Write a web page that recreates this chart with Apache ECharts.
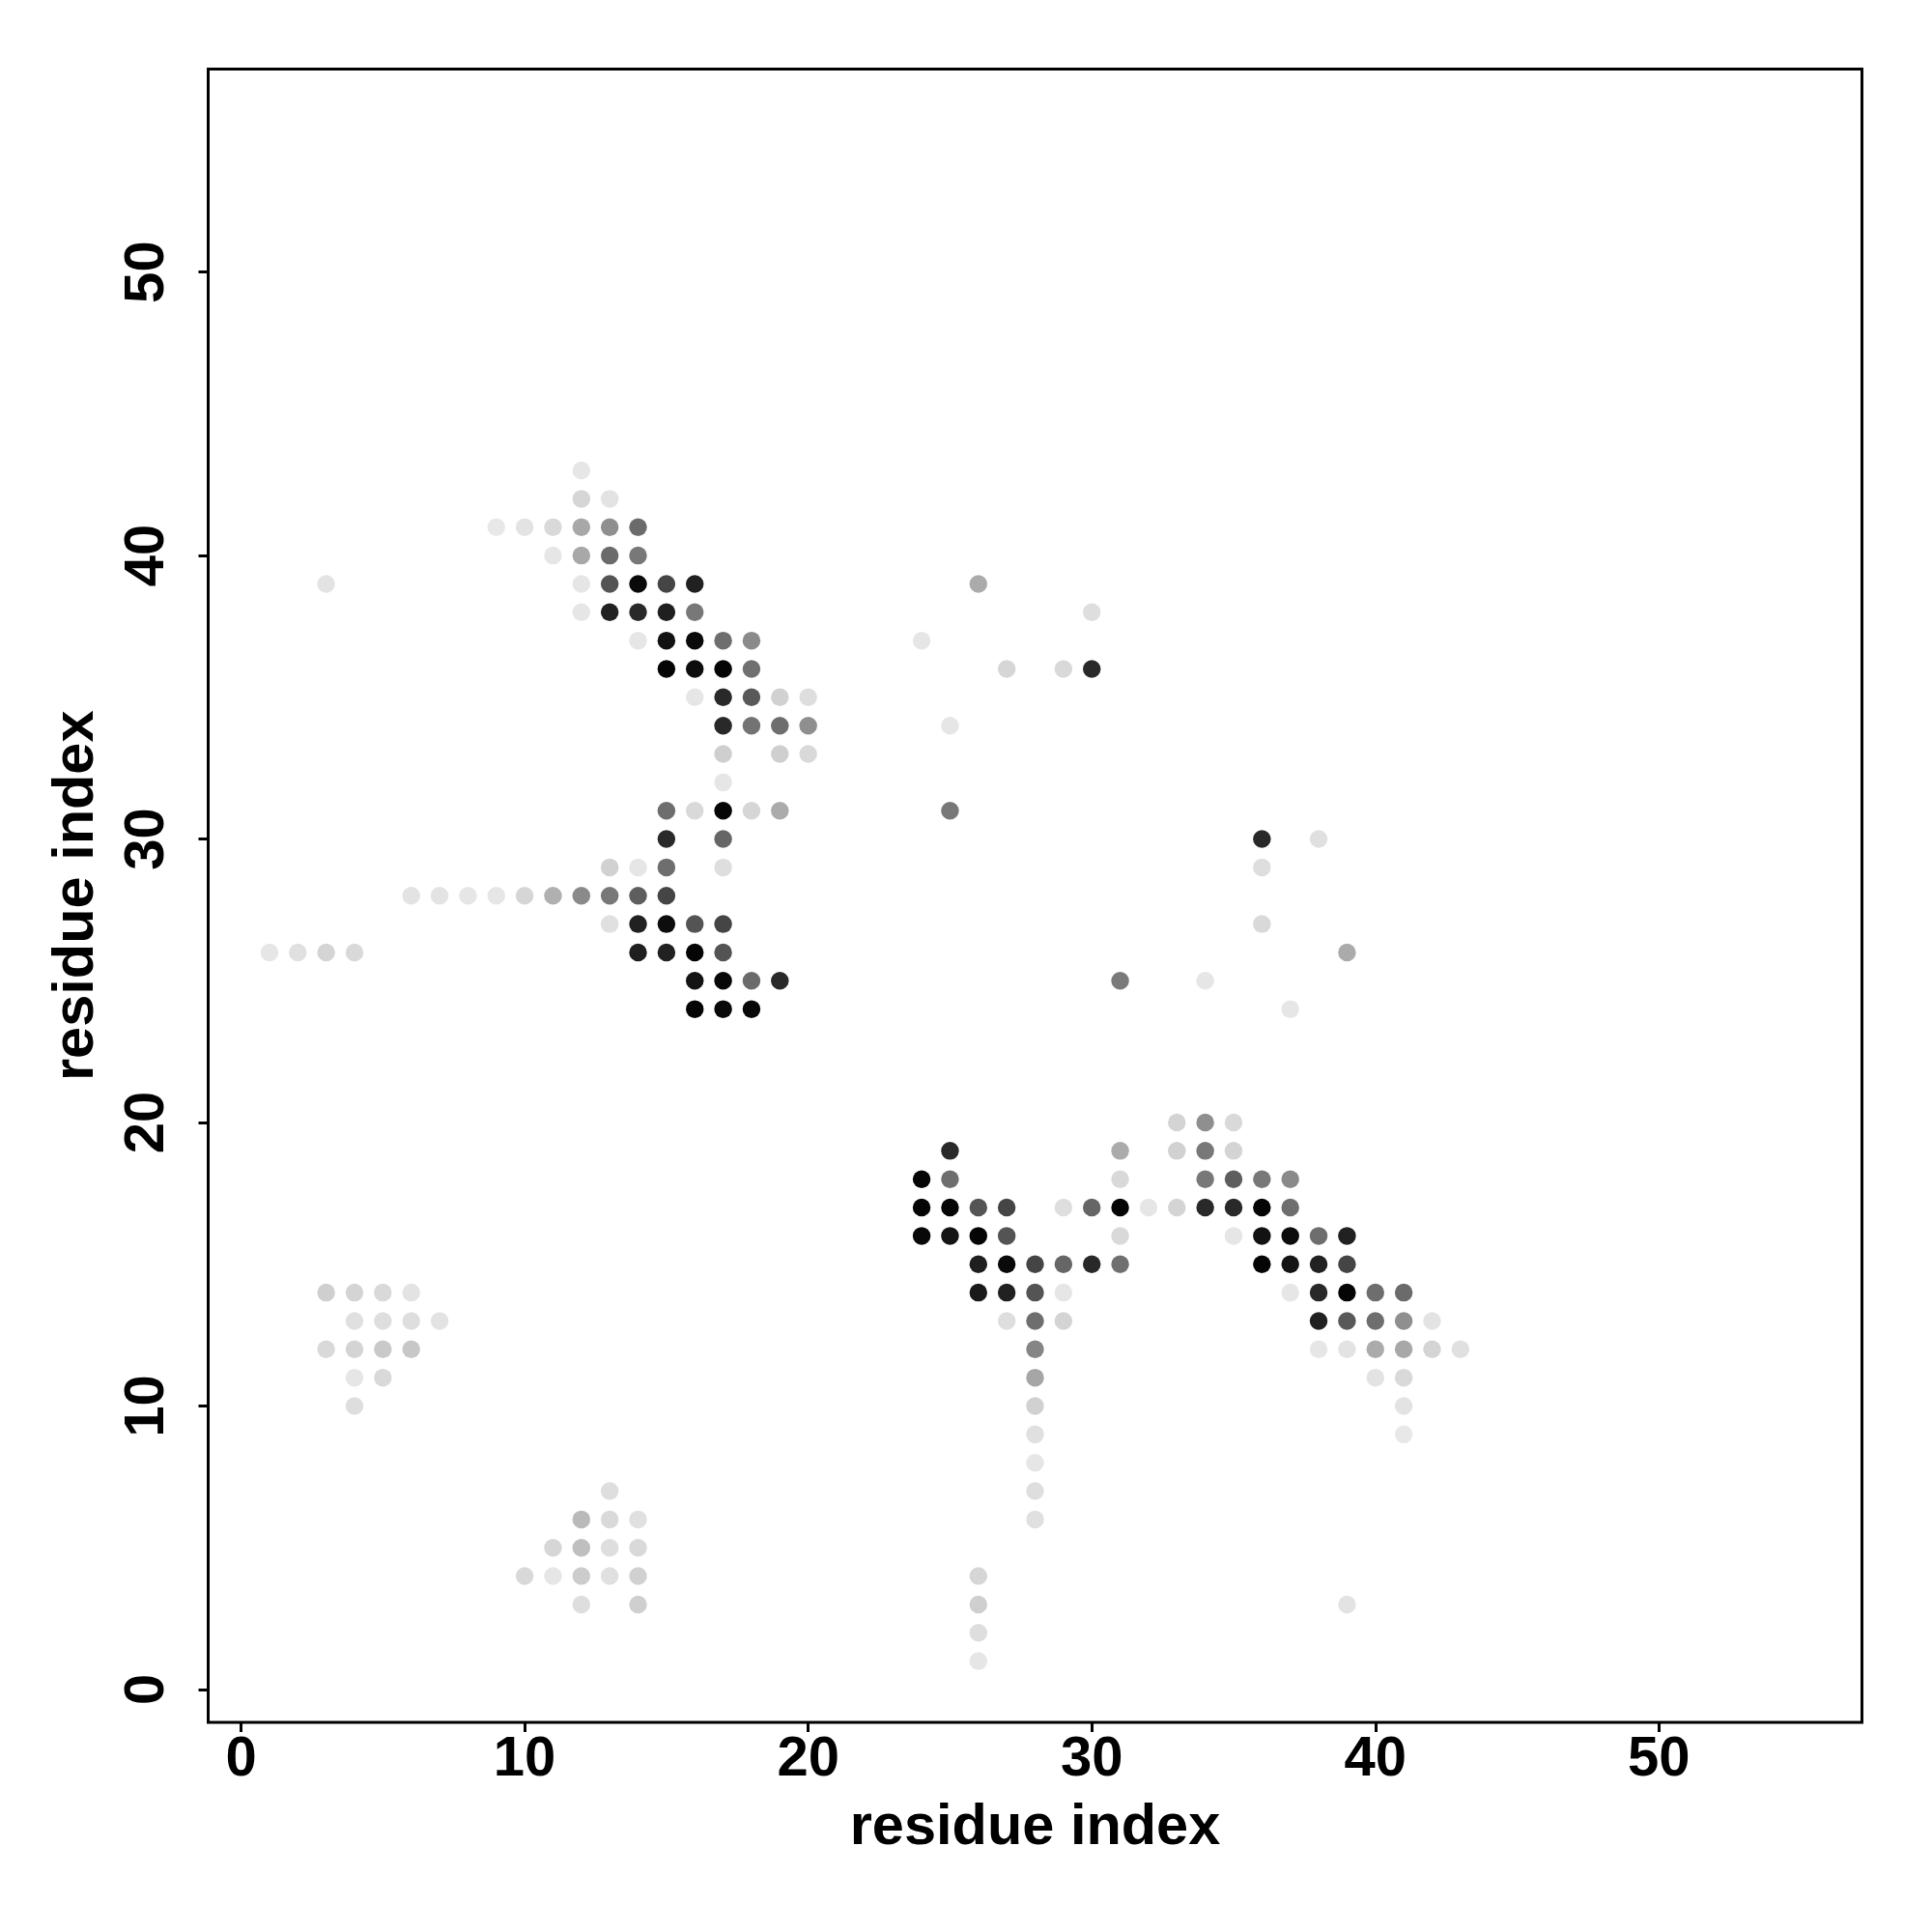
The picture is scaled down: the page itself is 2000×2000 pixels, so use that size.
<!DOCTYPE html>
<html>
<head>
<meta charset="utf-8">
<script src="https://cdn.jsdelivr.net/npm/echarts@6/dist/echarts.min.js"></script>
<style>html,body{margin:0;padding:0;background:#fff}#c{width:2000px;height:2000px}</style>
</head>
<body>
<div id="c"></div>
<script>
// [residue i, residue j, contact probability]
const helixPairTop = [
  [12,43,0.10],
  [12,42,0.16],[13,42,0.11],
  [9,41,0.09],[10,41,0.11],[11,41,0.15],[12,41,0.34],[13,41,0.44],[14,41,0.58],
  [11,40,0.10],[12,40,0.34],[13,40,0.58],[14,40,0.53],
  [12,39,0.10],[13,39,0.67],[14,39,0.96],[15,39,0.73],[16,39,0.87],
  [12,38,0.10],[13,38,0.87],[14,38,0.84],[15,38,0.88],[16,38,0.53],
  [14,37,0.10],[15,37,0.93],[16,37,0.96],[17,37,0.57],[18,37,0.46],
  [15,36,0.98],[16,36,0.95],[17,36,0.98],[18,36,0.56],
  [16,35,0.10],[17,35,0.84],[18,35,0.65],[19,35,0.18],[20,35,0.13],
  [17,34,0.84],[18,34,0.55],[19,34,0.57],[20,34,0.44],
  [17,33,0.19],[19,33,0.19],[20,33,0.15],
  [17,32,0.10],
  [15,31,0.57],[16,31,0.15],[17,31,0.98],[18,31,0.16],[19,31,0.33],
  [15,30,0.84],[17,30,0.60],
  [13,29,0.18],[14,29,0.10],[15,29,0.57],[17,29,0.13],
  [6,28,0.11],[7,28,0.11],[8,28,0.10],[9,28,0.10],[10,28,0.16],[11,28,0.31],[12,28,0.46],[13,28,0.53],[14,28,0.63],[15,28,0.73],
  [13,27,0.12],[14,27,0.87],[15,27,0.95],[16,27,0.67],[17,27,0.73],
  [1,26,0.10],[2,26,0.12],[3,26,0.17],[4,26,0.15],[14,26,0.88],[15,26,0.87],[16,26,0.98],[17,26,0.67],
  [16,25,0.92],[17,25,0.97],[18,25,0.58],[19,25,0.84],
  [16,24,0.98],[17,24,0.97],[18,24,0.97],
  [3,39,0.11]
];
const scattered = [
  [26,39,0.33],[30,38,0.13],[24,37,0.10],[27,36,0.16],[29,36,0.15],[30,36,0.84],
  [25,34,0.10],[25,31,0.53],[36,30,0.84],[38,30,0.12],[36,29,0.13],[36,27,0.15],
  [39,26,0.33],[31,25,0.52],[34,25,0.10],[37,24,0.10]
];
const helixPairBottom = [
  [33,20,0.17],[34,20,0.44],[35,20,0.15],
  [25,19,0.84],[31,19,0.33],[33,19,0.18],[34,19,0.53],[35,19,0.17],
  [24,18,0.98],[25,18,0.57],[31,18,0.15],[34,18,0.53],[35,18,0.63],[36,18,0.53],[37,18,0.46],
  [24,17,0.98],[25,17,0.98],[26,17,0.67],[27,17,0.73],[29,17,0.13],[30,17,0.60],[31,17,0.98],[32,17,0.10],[33,17,0.17],[34,17,0.84],[35,17,0.84],[36,17,0.98],[37,17,0.57],
  [24,16,0.97],[25,16,0.92],[26,16,0.98],[27,16,0.67],[31,16,0.15],[35,16,0.10],[36,16,0.93],[37,16,0.95],[38,16,0.57],[39,16,0.87],
  [26,15,0.88],[27,15,0.96],[28,15,0.73],[29,15,0.60],[30,15,0.84],[31,15,0.56],[36,15,0.98],[37,15,0.92],[38,15,0.87],[39,15,0.73],
  [26,14,0.90],[27,14,0.87],[28,14,0.67],[29,14,0.10],[37,14,0.10],[38,14,0.84],[39,14,0.98],[40,14,0.57],[41,14,0.58],
  [27,13,0.13],[28,13,0.57],[29,13,0.17],[38,13,0.87],[39,13,0.65],[40,13,0.57],[41,13,0.44],[42,13,0.11],
  [28,12,0.48],[38,12,0.10],[39,12,0.11],[40,12,0.33],[41,12,0.34],[42,12,0.17],[43,12,0.12],
  [28,11,0.35],[40,11,0.11],[41,11,0.15],
  [28,10,0.18],[41,10,0.11],
  [28,9,0.12],[41,9,0.09],
  [28,8,0.10],[28,7,0.13],[28,6,0.12],
  [26,4,0.16],[26,3,0.19],[26,2,0.13],[26,1,0.10],[39,3,0.11]
];
const patchLeft = [
  [3,14,0.19],[4,14,0.17],[5,14,0.15],[6,14,0.11],
  [4,13,0.12],[5,13,0.13],[6,13,0.13],[7,13,0.11],
  [3,12,0.15],[4,12,0.17],[5,12,0.21],[6,12,0.22],
  [4,11,0.10],[5,11,0.15],
  [4,10,0.13]
];
const patchBottom = [
  [13,7,0.13],
  [12,6,0.27],[13,6,0.15],[14,6,0.12],
  [11,5,0.16],[12,5,0.25],[13,5,0.13],[14,5,0.15],
  [10,4,0.15],[11,4,0.10],[12,4,0.20],[13,4,0.12],[14,4,0.18],
  [12,3,0.13],[14,3,0.19]
];
const tickValues = [0,10,20,30,40,50];
const axisName = 'residue index';

const data = [].concat(helixPairTop, scattered, helixPairBottom, patchLeft, patchBottom);
const FONT = '"Liberation Sans", Arial, Helvetica, sans-serif';
const textStyle = {fontSize:58, fontWeight:'bold', color:'#000', fontFamily:FONT};
const titleStyle = {fontSize:59.5, fontWeight:'bold', color:'#000', fontFamily:FONT};

const chart = echarts.init(document.getElementById('c'), null, {renderer:'canvas'});
chart.setOption({
  animation:false,
  backgroundColor:'#ffffff',
  grid:{left:215.5, top:71.5, width:1712, height:1711.5, show:true, borderColor:'#000', borderWidth:3, backgroundColor:'transparent'},
  xAxis:{
    type:'value', min:-1.16, max:57.16,
    splitLine:{show:false},
    axisLine:{show:false, onZero:false},
    axisTick:{show:true, customValues:tickValues, length:10, lineStyle:{color:'#000', width:3}},
    axisLabel:Object.assign({customValues:tickValues, margin:10}, textStyle),
    name:axisName, nameLocation:'middle', nameGap:80,
    nameTextStyle:titleStyle
  },
  yAxis:{
    type:'value', min:-1.16, max:57.16,
    splitLine:{show:false},
    axisLine:{show:false, onZero:false},
    axisTick:{show:true, customValues:tickValues, length:10, lineStyle:{color:'#000', width:3}},
    axisLabel:Object.assign({customValues:tickValues, margin:34, rotate:90}, textStyle),
    name:axisName, nameLocation:'middle', nameGap:106, nameRotate:90,
    nameTextStyle:titleStyle
  },
  visualMap:{show:false, type:'continuous', min:0, max:1, dimension:2, inRange:{color:['#ffffff','#000000']}},
  series:[{type:'scatter', data:data, symbol:'circle', symbolSize:18.5, itemStyle:{opacity:1}}]
});
</script>
</body>
</html>
